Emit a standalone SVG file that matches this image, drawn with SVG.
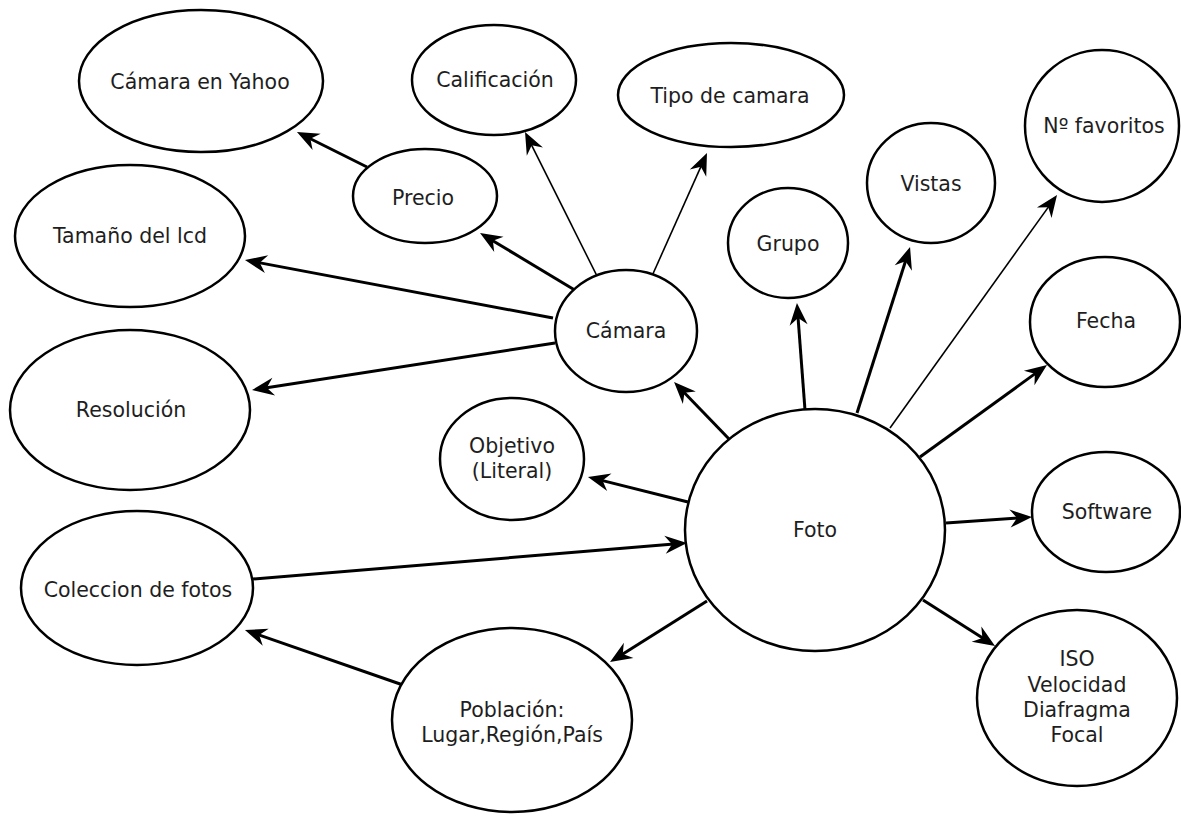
<svg xmlns="http://www.w3.org/2000/svg" width="1181" height="816" viewBox="0 0 1181 816">
  <style>
    .node ellipse { fill: #ffffff; stroke: #000000; stroke-width: 2.5; }
    .node text { font-family: "DejaVu Sans", Verdana, sans-serif; font-size: 20.5px; fill: #1e1e1e; text-anchor: middle; }
    .edge { stroke: #000000; stroke-width: 3; fill: none; marker-end: url(#head); }
    .edge.thin { stroke-width: 1.6; }
  </style>
  <defs>
    <!-- notched arrowhead; tip sits 10 units past the end of each line -->
    <marker id="head" markerUnits="userSpaceOnUse" viewBox="-14 -11 26 22" markerWidth="26" markerHeight="22" refX="0" refY="0" orient="auto">
      <path d="M10,0 L-12,-9 L-5,0 L-12,9 Z" fill="#000000"/>
    </marker>
  </defs>
  <rect width="1181" height="816" fill="#ffffff"/>

  <!-- connectors -->
  <g id="connectors">
    <line class="edge" x1="367" y1="167" x2="305.9" y2="136.5"/>
    <line class="edge" x1="578" y1="292" x2="488.6" y2="238.2"/>
    <line class="edge thin" x1="597" y1="276" x2="529.5" y2="140.9"/>
    <line class="edge thin" x1="652" y1="276" x2="702.9" y2="162.1"/>
    <line class="edge" x1="553" y1="318" x2="254.8" y2="261.9"/>
    <line class="edge" x1="555" y1="343" x2="261.9" y2="388.5"/>
    <line class="edge" x1="730" y1="440" x2="681.0" y2="389.2"/>
    <line class="edge" x1="688" y1="502" x2="597.7" y2="479.4"/>
    <line class="edge" x1="805" y1="410" x2="797.7" y2="313.0"/>
    <line class="edge" x1="857" y1="413" x2="907.0" y2="256.5"/>
    <line class="edge thin" x1="890" y1="428" x2="1051.2" y2="203.1"/>
    <line class="edge" x1="920" y1="457" x2="1038.9" y2="370.9"/>
    <line class="edge" x1="946" y1="523" x2="1022.0" y2="517.7"/>
    <line class="edge" x1="923" y1="600" x2="986.6" y2="640.6"/>
    <line class="edge" x1="707" y1="601" x2="618.5" y2="656.7"/>
    <line class="edge" x1="253" y1="579" x2="677.0" y2="543.8"/>
    <line class="edge" x1="403" y1="685" x2="254.4" y2="633.3"/>
  </g>

  <!-- nodes -->
  <g id="camara-yahoo" class="node">
    <ellipse cx="201" cy="81" rx="122" ry="71"/>
    <text x="200" y="89">Cámara en Yahoo</text>
  </g>
  <g id="tamano-lcd" class="node">
    <ellipse cx="130" cy="236" rx="115" ry="71"/>
    <text x="130" y="243">Tamaño del lcd</text>
  </g>
  <g id="resolucion" class="node">
    <ellipse cx="130" cy="410" rx="120" ry="80"/>
    <text x="131" y="417">Resolución</text>
  </g>
  <g id="coleccion" class="node">
    <ellipse cx="137" cy="588" rx="116" ry="77"/>
    <text x="138" y="597">Coleccion de fotos</text>
  </g>
  <g id="poblacion" class="node">
    <ellipse cx="512" cy="720" rx="120" ry="92"/>
    <text x="512" y="717">Población:</text>
    <text x="512" y="742">Lugar,Región,País</text>
  </g>
  <g id="precio" class="node">
    <ellipse cx="425" cy="196" rx="72" ry="47"/>
    <text x="423" y="205">Precio</text>
  </g>
  <g id="calificacion" class="node">
    <ellipse cx="494" cy="80" rx="82" ry="55"/>
    <text x="495" y="87">Calificación</text>
  </g>
  <g id="tipo-camara" class="node">
    <ellipse cx="731" cy="95" rx="113" ry="52"/>
    <text x="730" y="103">Tipo de camara</text>
  </g>
  <g id="camara" class="node">
    <ellipse cx="626" cy="331" rx="71" ry="61"/>
    <text x="626" y="338">Cámara</text>
  </g>
  <g id="objetivo" class="node">
    <ellipse cx="512" cy="459" rx="72" ry="61"/>
    <text x="512" y="453">Objetivo</text>
    <text x="512" y="478">(Literal)</text>
  </g>
  <g id="grupo" class="node">
    <ellipse cx="788" cy="243" rx="60" ry="55"/>
    <text x="788" y="251">Grupo</text>
  </g>
  <g id="vistas" class="node">
    <ellipse cx="931" cy="183" rx="64" ry="60"/>
    <text x="931" y="191">Vistas</text>
  </g>
  <g id="favoritos" class="node">
    <ellipse cx="1102" cy="126" rx="77" ry="76"/>
    <text x="1104" y="133">Nº favoritos</text>
  </g>
  <g id="fecha" class="node">
    <ellipse cx="1105" cy="322" rx="75" ry="65"/>
    <text x="1106" y="328">Fecha</text>
  </g>
  <g id="software" class="node">
    <ellipse cx="1106" cy="512" rx="74" ry="60"/>
    <text x="1107" y="519">Software</text>
  </g>
  <g id="foto" class="node">
    <ellipse cx="815" cy="530" rx="130" ry="121"/>
    <text x="815" y="537">Foto</text>
  </g>
  <g id="exif" class="node">
    <ellipse cx="1077" cy="698" rx="100" ry="88"/>
    <text x="1077" y="666">ISO</text>
    <text x="1077" y="692">Velocidad</text>
    <text x="1077" y="717">Diafragma</text>
    <text x="1077" y="742">Focal</text>
  </g>
</svg>
